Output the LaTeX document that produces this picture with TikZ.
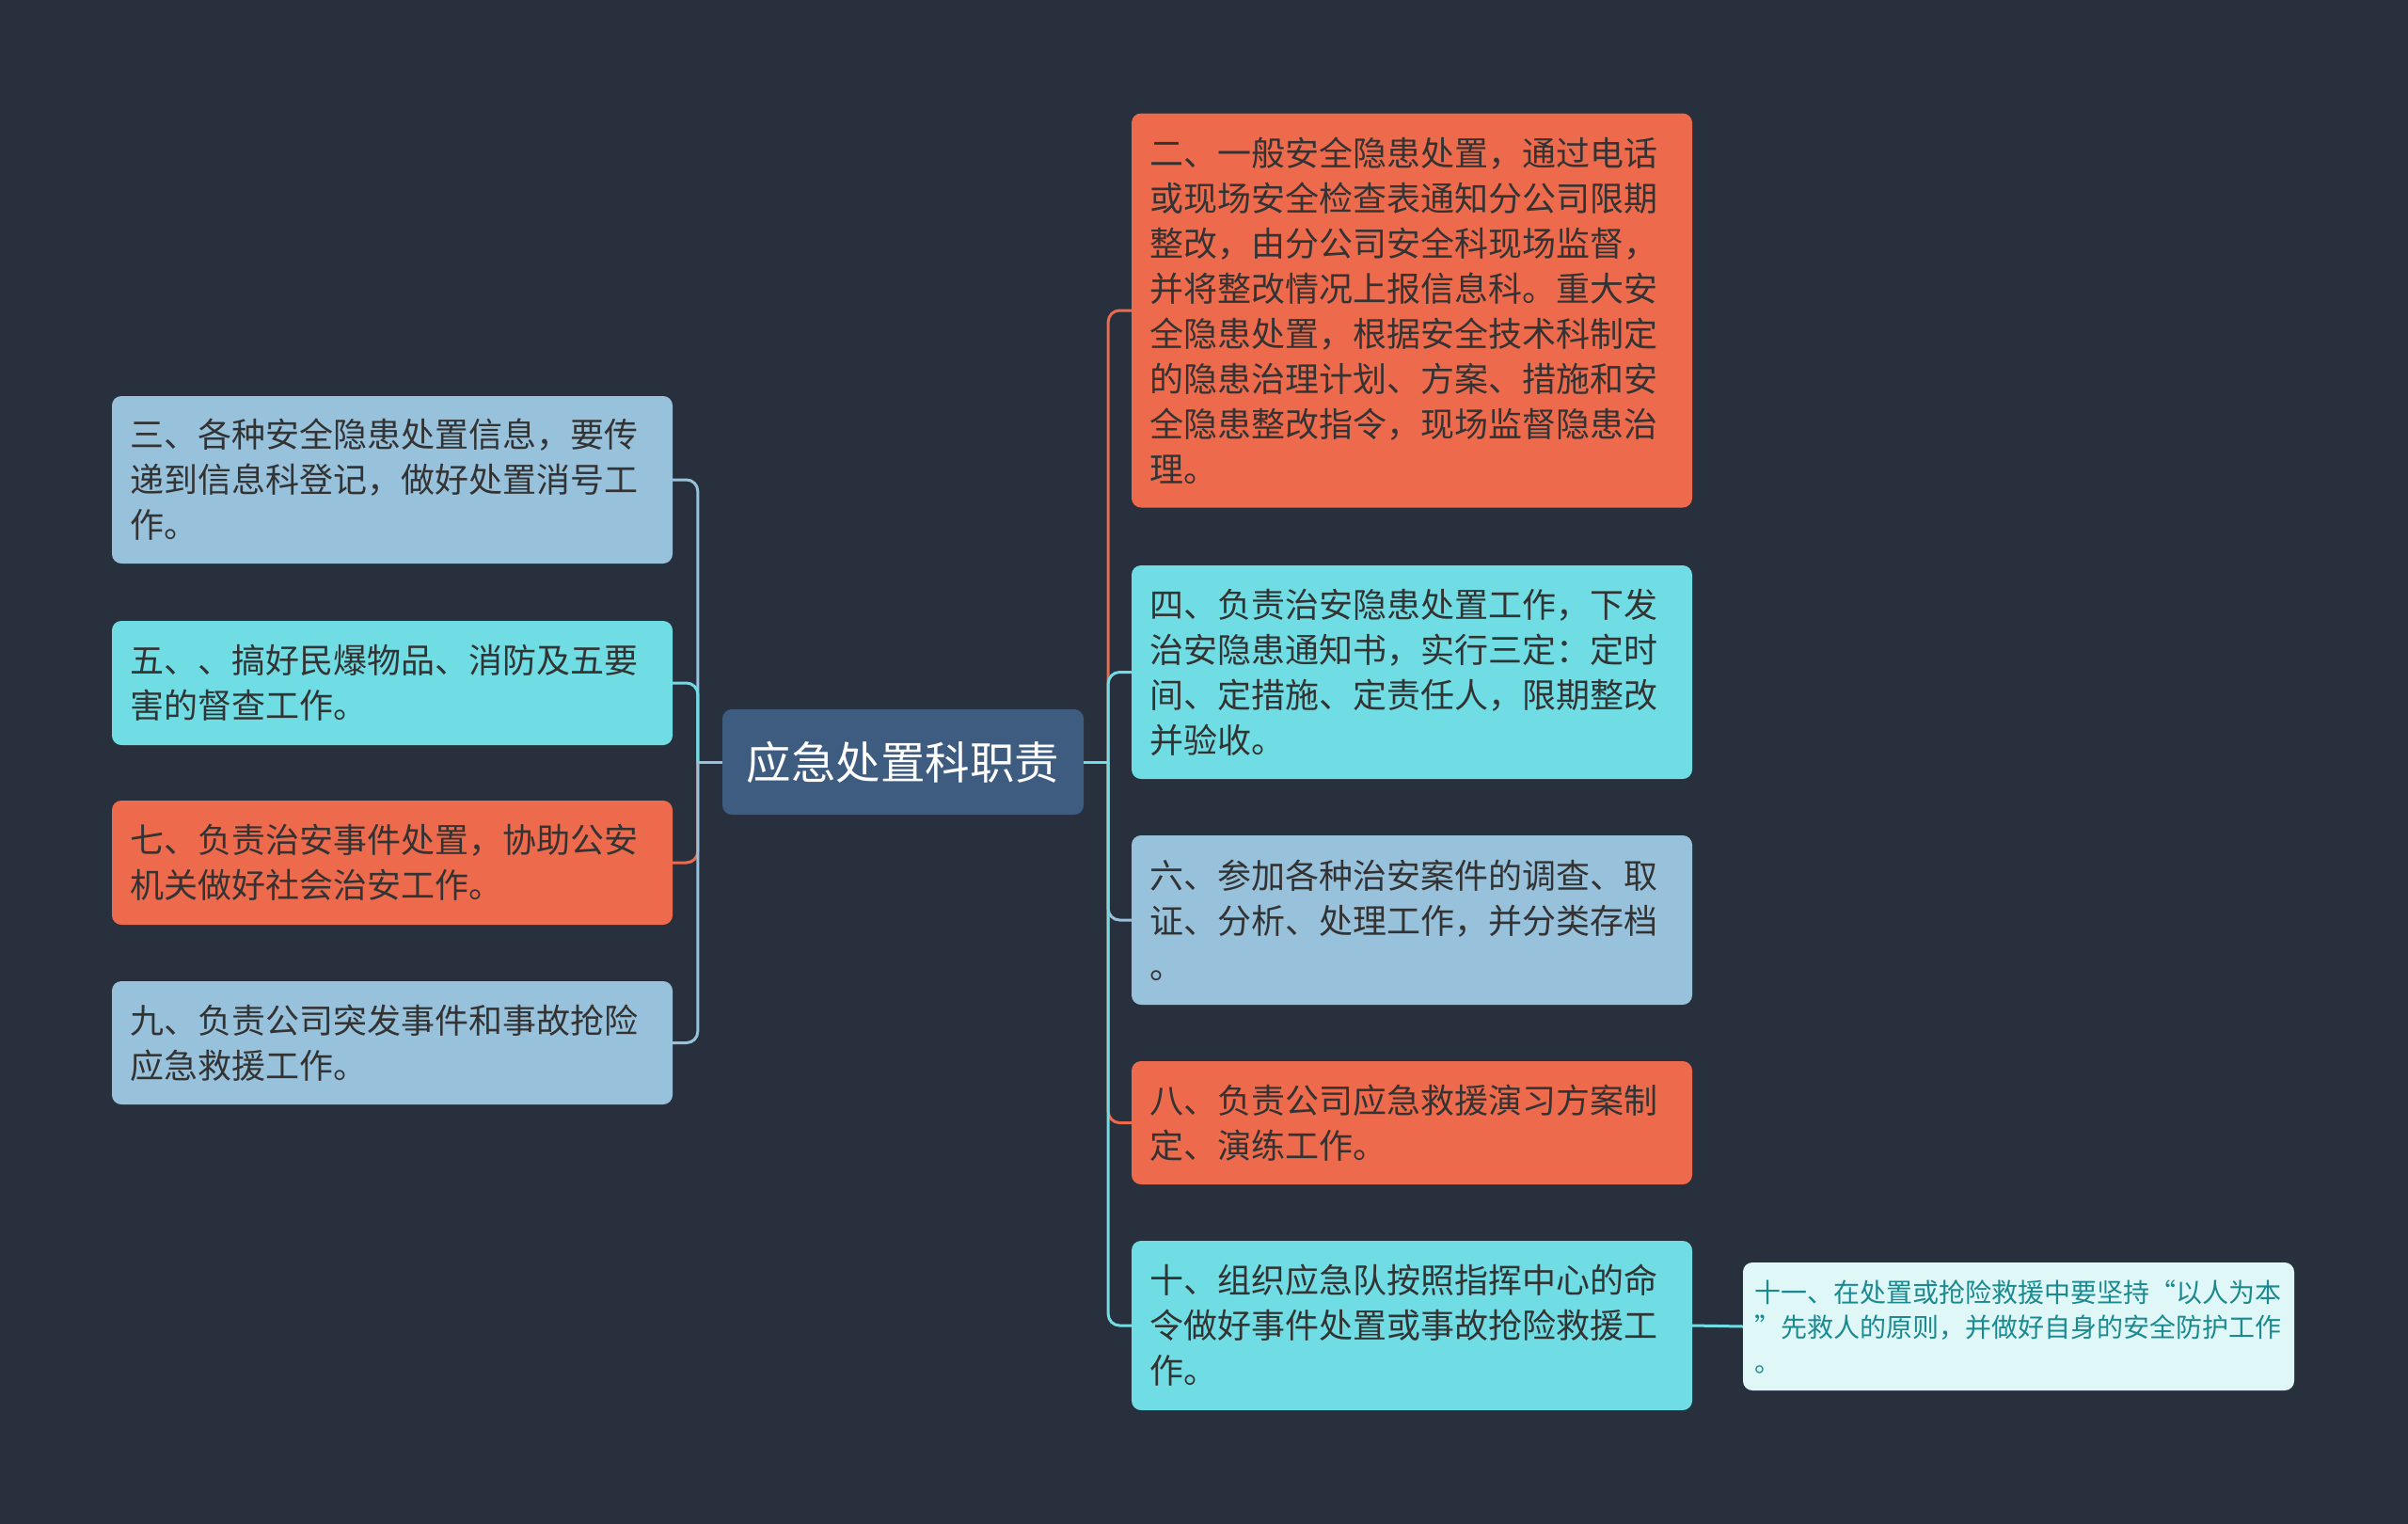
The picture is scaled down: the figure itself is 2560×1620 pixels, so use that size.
\documentclass[tikz,border=0pt]{standalone}
\usepackage{fontspec}
\newfontfamily\cjk{Noto Sans CJK SC}
\definecolor{bgc}{HTML}{282F3D}
\definecolor{rootc}{HTML}{3E5B80}
\definecolor{orangec}{HTML}{EE6A4C}
\definecolor{cyanc}{HTML}{6FDDE3}
\definecolor{bluec}{HTML}{98C1DB}
\definecolor{palec}{HTML}{E0F7F8}
\definecolor{tealc}{HTML}{1A8A90}
\definecolor{inkc}{HTML}{333333}
\tikzset{
  item/.style={rounded corners=10pt,fill=#1,text=inkc,align=left,
    inner xsep=19pt,inner ysep=0pt,text width=558pt,
    font=\cjk\fontsize{36}{48}\selectfont},
  link/.style={draw=#1,line width=3pt,rounded corners=12pt}
}
\begin{document}
\begin{tikzpicture}[x=1pt,y=-1pt]
\fill[bgc] (0,0) rectangle (2560,1620);
\node[rounded corners=10pt,fill=rootc,text=white,minimum width=384pt,minimum height=112pt,
  font=\cjk\fontsize{47.5}{56}\selectfont] (root) at (960,810) {应急处置科职责};
\node[item=orangec,minimum height=419pt] (n2) at (1501,330) {二、一般安全隐患处置，通过电话\\或现场安全检查表通知分公司限期\\整改，由分公司安全科现场监督，\\并将整改情况上报信息科。重大安\\全隐患处置，根据安全技术科制定\\的隐患治理计划、方案、措施和安\\全隐患整改指令，现场监督隐患治\\理。};
\node[item=cyanc,minimum height=227pt] (n4) at (1501,714.5) {四、负责治安隐患处置工作，下发\\治安隐患通知书，实行三定：定时\\间、定措施、定责任人，限期整改\\并验收。};
\node[item=bluec,minimum height=180pt] (n6) at (1501,978) {六、参加各种治安案件的调查、取\\证、分析、处理工作，并分类存档\\。};
\node[item=orangec,minimum height=131pt] (n8) at (1501,1193.5) {八、负责公司应急救援演习方案制\\定、演练工作。};
\node[item=cyanc,minimum height=180pt] (n10) at (1501,1409) {十、组织应急队按照指挥中心的命\\令做好事件处置或事故抢险救援工\\作。};
\node[rounded corners=10pt,fill=palec,text=tealc,align=left,inner xsep=12pt,inner ysep=0pt,
  text width=562pt,minimum height=136pt,font=\cjk\fontsize{28}{37}\selectfont] (n11) at (2146,1410)
  {十一、在处置或抢险救援中要坚持“以人为本\\”先救人的原则，并做好自身的安全防护工作\\。};
\node[item=bluec,minimum height=178pt] (n3) at (417,510) {三、各种安全隐患处置信息，要传\\递到信息科登记，做好处置消号工\\作。};
\node[item=cyanc,minimum height=132pt] (n5) at (417,726) {五、、搞好民爆物品、消防及五要\\害的督查工作。};
\node[item=orangec,minimum height=132pt] (n7) at (417,917) {七、负责治安事件处置，协助公安\\机关做好社会治安工作。};
\node[item=bluec,minimum height=131pt] (n9) at (417,1108.5) {九、负责公司突发事件和事故抢险\\应急救援工作。};
\coordinate (rj) at ([xshift=26pt]root.east);
\coordinate (lj) at ([xshift=-26pt]root.west);
\draw[link=orangec] (rj) |- (n2.west);
\draw[link=cyanc] (rj) |- (n4.west);
\draw[link=bluec] (rj) |- (n6.west);
\draw[link=orangec] (rj) |- (n8.west);
\draw[link=cyanc] (rj) |- (n10.west);
\draw[link=cyanc] (root.east) -- (rj);
\draw[link=bluec] (lj) |- (n3.east);
\draw[link=cyanc] (lj) |- (n5.east);
\draw[link=orangec] (lj) |- (n7.east);
\draw[link=bluec] (lj) |- (n9.east);
\draw[link=bluec] (root.west) -- (lj);
\draw[link=cyanc] (n10.east) -- (n11.west);
\end{tikzpicture}
\end{document}
